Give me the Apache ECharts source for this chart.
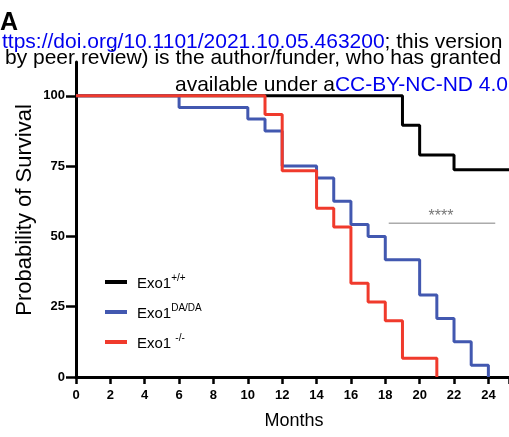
<!DOCTYPE html>
<html>
<head>
<meta charset="utf-8">
<style>html,body{margin:0;padding:0;background:#fff;}#c{width:509px;height:437px;}</style>
<script src="https://cdn.jsdelivr.net/npm/echarts@6/dist/echarts.min.js"></script>
</head>
<body>
<div id="c"></div>
<script>
// ---- data ----
var seriesNames = ['Exo1+/+', 'Exo1DA/DA', 'Exo1-/-'];
var wtMonths = [0, 19, 20, 22, 25.2];
var wtSurvival = [100, 89.47, 78.95, 73.68, 73.68];
var daMonths = [0, 6, 10, 11, 12, 14, 15, 16, 17, 18, 20, 21, 22, 23, 24];
var daSurvival = [100, 95.8, 91.7, 87.5, 75, 70.8, 62.5, 54.2, 50, 41.7, 29.2, 20.8, 12.5, 4.2, 0];
var koMonths = [0, 11, 12, 14, 15, 16, 17, 18, 19, 21];
var koSurvival = [100, 93.3, 73.3, 60, 53.3, 33.3, 26.7, 20, 6.7, 0];
var xTicks = [0, 2, 4, 6, 8, 10, 12, 14, 16, 18, 20, 22, 24];
var yTicks = [0, 25, 50, 75, 100];
var sigMonths = [18.2, 24.4];
var sigLevel = [54.7, 54.7];
var sigText = '****';

function pairs(xs, ys) { return xs.map(function (x, i) { return [x, ys[i]]; }); }

var chart = echarts.init(document.getElementById('c'), null, {renderer: 'canvas'});
var F = '"Liberation Sans", Arial, Helvetica, sans-serif';
var colors = ['#000000', '#4258b0', '#f03a2c'];

var legendRich = {
  n: {fontFamily: F, fontSize: 15, color: '#000', lineHeight: 18, verticalAlign: 'bottom'},
  s: {fontFamily: F, fontSize: 10, color: '#000', lineHeight: 18, verticalAlign: 'top'}
};

var option = {
  animation: false,
  backgroundColor: '#fff',
  grid: {left: 76, right: -5, top: 62, bottom: 60, containLabel: false},
  xAxis: {
    type: 'value', min: 0, max: 25.2, interval: 2,
    axisLine: {show: true, lineStyle: {color: '#000', width: 3}},
    axisTick: {show: true, length: 7, lineStyle: {color: '#000', width: 2.5}},
    axisLabel: {fontFamily: F, fontWeight: 'bold', fontSize: 13, color: '#000', margin: 12, customValues: xTicks},
    splitLine: {show: false}
  },
  yAxis: {
    type: 'value', min: 0, max: 112, interval: 25,
    axisLine: {show: true, lineStyle: {color: '#000', width: 3}},
    axisTick: {show: true, length: 10, lineStyle: {color: '#000', width: 2.5}, customValues: yTicks},
    axisLabel: {fontFamily: F, fontWeight: 'bold', fontSize: 13, color: '#000', margin: 11, customValues: yTicks},
    splitLine: {show: false}
  },
  legend: {
    orient: 'vertical', left: 100, top: 268, itemGap: 12, itemWidth: 22, itemHeight: 4,
    icon: 'rect',
    data: seriesNames,
    formatter: function (name) {
      if (name === 'Exo1+/+') return '{n|Exo1}{s|+/+}';
      if (name === 'Exo1DA/DA') return '{n|Exo1}{s|DA/DA}';
      return '{n|Exo1 }{s|-/-}';
    },
    textStyle: {rich: legendRich, padding: [0, 0, 0, 5]}
  },
  series: [
    {name: seriesNames[0], type: 'line', step: 'end', data: pairs(wtMonths, wtSurvival), showSymbol: false,
     lineStyle: {color: colors[0], width: 3}, itemStyle: {color: colors[0]}, z: 2},
    {name: seriesNames[1], type: 'line', step: 'end', data: pairs(daMonths, daSurvival), showSymbol: false,
     lineStyle: {color: colors[1], width: 3}, itemStyle: {color: colors[1]}, z: 3},
    {name: seriesNames[2], type: 'line', step: 'end', data: pairs(koMonths, koSurvival), showSymbol: false,
     lineStyle: {color: colors[2], width: 3}, itemStyle: {color: colors[2]}, z: 4},
    {name: 'sig', type: 'line', data: pairs(sigMonths, sigLevel), showSymbol: false, silent: true,
     lineStyle: {color: '#808080', width: 1}, z: 1}
  ],
  graphic: [
    {type: 'text', x: 0, y: 23, style: {text: 'A', font: 'bold 25px ' + F, fill: '#000', verticalAlign: 'middle'}},
    {type: 'text', x: 2, y: 42, style: {
      rich: {b: {fill: '#0000ee', font: '21px ' + F}, k: {fill: '#000', font: '21px ' + F}},
      text: '{b|ttps://doi.org/10.1101/2021.10.05.463200}{k|; this version}', verticalAlign: 'middle'}},
    {type: 'text', x: 5, y: 58, style: {text: 'by peer review) is the author/funder, who has granted', font: '21px ' + F, fill: '#000', verticalAlign: 'middle'}},
    {type: 'text', x: 175, y: 85, style: {
      rich: {b: {fill: '#0000ee', font: '21px ' + F}, k: {fill: '#000', font: '21px ' + F}},
      text: '{k|available under a}{b|CC-BY-NC-ND 4.0}', verticalAlign: 'middle'}},
    {type: 'text', x: 25, y: 210, rotation: Math.PI / 2, style: {text: 'Probability of Survival', font: '22px ' + F, fill: '#000', align: 'center', verticalAlign: 'middle'}},
    {type: 'text', x: 294, y: 421, style: {text: 'Months', font: '18px ' + F, fill: '#000', align: 'center', verticalAlign: 'middle'}}
  ]
};
chart.setOption(option);
var p = chart.convertToPixel({gridIndex: 0}, [(sigMonths[0] + sigMonths[1]) / 2, sigLevel[0]]);
chart.setOption({graphic: option.graphic.concat([
  {type: 'text', x: p[0] - 1, y: p[1] - 7, style: {text: sigText, font: '16px ' + F, fill: '#777', align: 'center', verticalAlign: 'middle'}}
])});
</script>
</body>
</html>
